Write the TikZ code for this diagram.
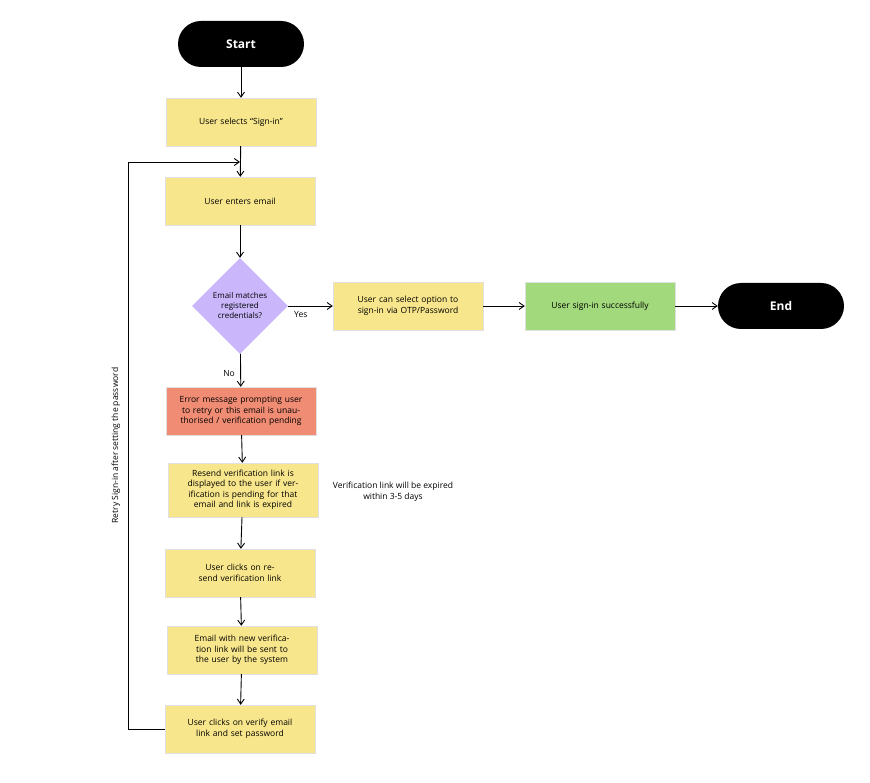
\documentclass[tikz,border=0pt]{standalone}
\usepackage{fontspec}
\setmainfont{Open Sans}
\usetikzlibrary{shapes.geometric,arrows.meta,positioning}
\definecolor{stickyyellow}{HTML}{F8E68C}
\definecolor{stickyred}{HTML}{F08C74}
\definecolor{stickygreen}{HTML}{A2D97C}
\definecolor{decisionpurple}{HTML}{C9B6FB}
\tikzset{
  stepbox/.style={draw=black!12, fill=stickyyellow, minimum width=150pt, minimum height=48pt,
    text width=140pt, align=center, font=\fontsize{8.5}{10.5}\selectfont},
  terminal/.style={fill=black, text=white, rounded corners=23pt, minimum width=126pt,
    minimum height=46pt, font=\fontsize{12}{14}\selectfont\bfseries},
  flow/.style={-{Straight Barb[length=5pt,width=7pt]}, line width=0.9pt},
  lbl/.style={font=\fontsize{8.5}{10.5}\selectfont}
}
\begin{document}
\begin{tikzpicture}[x=1pt, y=-1pt]
\useasboundingbox[fill=white] (0,0) rectangle (870,783);
\node[terminal] (start) at (241,44) {Start};
\node[stepbox] (signin) at (241,122) {User selects ``Sign-in''};
\node[stepbox] (email) at (240,201) {User enters email};
\node[diamond, fill=decisionpurple, minimum width=96pt, minimum height=96pt, inner sep=0pt,
  align=center, font=\fontsize{8}{10}\selectfont] (match) at (240,306)
  {Email matches\\registered\\credentials?};
\node[stepbox] (otp) at (408,306) {User can select option to sign-in via OTP/Password};
\node[stepbox, fill=stickygreen] (success) at (600,306) {User sign-in successfully};
\node[terminal] (end) at (781,306) {End};
\node[stepbox, fill=stickyred] (error) at (241,411)
  {Error message prompting user to retry or this email is unauthorised / verification pending};
\node[stepbox, minimum height=54pt] (resend) at (243,490)
  {Resend verification link is displayed to the user if verification is pending for that email and link is expired};
\node[lbl, align=center] (expiry) at (393,492) {Verification link will be expired\\within 3-5 days};
\node[stepbox] (clicks) at (240,573) {User clicks on resend verification link};
\node[stepbox] (newlink) at (242,650) {Email with new verification link will be sent to the user by the system};
\node[stepbox] (verify) at (240,729) {User clicks on verify email link and set password};
\coordinate (loopin) at (240,162);
\coordinate (loopbot) at (128,729);
\coordinate (looptop) at (128,162);

\draw[flow] (start) -- (signin);
\draw[flow] (signin) -- (email);
\draw[flow] (email) -- (match);
\draw[flow] (match) -- node[lbl, below right=2pt and 0pt, pos=0.05] {Yes} (otp);
\draw[flow] (otp) -- (success);
\draw[flow] (success) -- (end);
\draw[flow] (match) -- node[lbl, left=2pt, pos=0.6] {No} (error);
\draw[flow] (error) -- (resend);
\draw[flow] (resend) -- (clicks);
\draw[flow] (clicks) -- (newlink);
\draw[flow] (newlink) -- (verify);
\draw[flow] (verify.west) -- (loopbot) -- node[lbl, sloped, above=4pt] {Retry Sign-in after setting the password} (looptop) -- (loopin);
\end{tikzpicture}
\end{document}
